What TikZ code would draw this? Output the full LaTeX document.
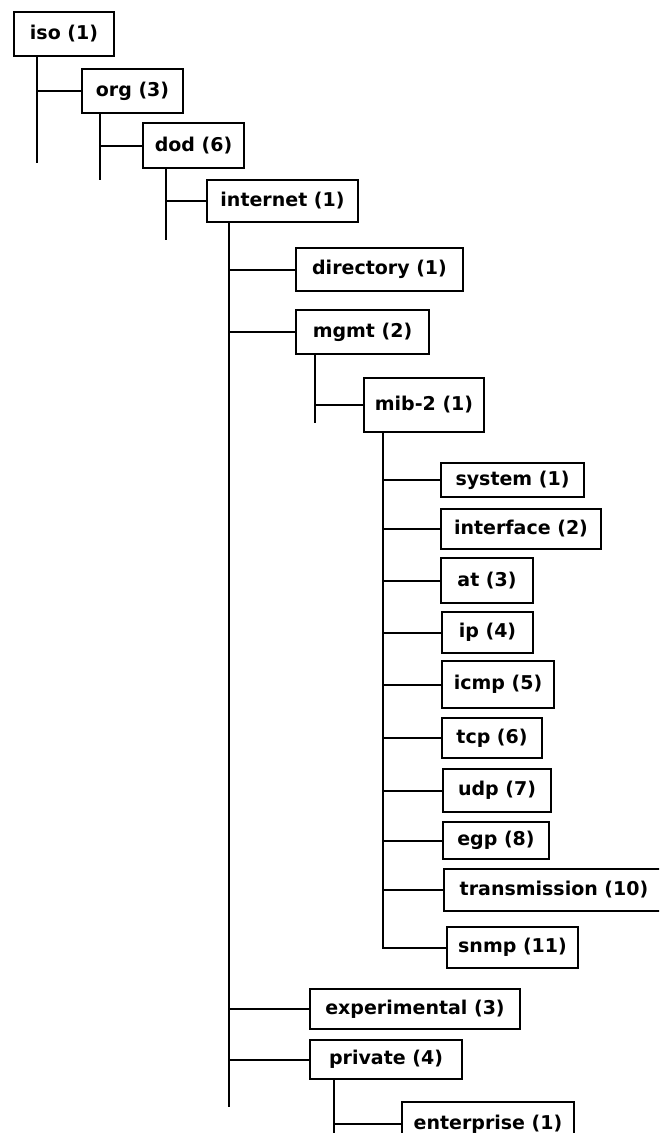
\documentclass[tikz,border=0pt]{standalone}
\usepackage{fontspec}
\setmainfont{DejaVu Sans}
\usetikzlibrary{positioning,calc}
\tikzset{
    oid/.style={
        draw,
        line width=2pt,
        anchor=north west,
        inner xsep=2pt,
        inner ysep=0pt,
        align=center,
        font=\fontsize{19}{21}\selectfont\bfseries
    },
    branch/.style={
        line width=2pt
    }
}

\begin{document}
\begin{tikzpicture}[x=1pt,y=-1pt]
\useasboundingbox (0,0) rectangle (659,1133);
\clip (0,0) rectangle (659,1133);

% upper levels
\node[oid, minimum width=100, minimum height=44] (iso) at (13,11) {iso (1)};
\node[oid, minimum width=101, minimum height=44] (org) at (81,68) {org (3)};
\node[oid, minimum width=101, minimum height=45] (dod) at (142,122) {dod (6)};
\node[oid, minimum width=151, minimum height=42] (internet) at (206,179) {internet (1)};

% children of internet
\node[oid, minimum width=167, minimum height=43] (directory) at (295,247) {directory (1)};
\node[oid, minimum width=133, minimum height=44] (mgmt) at (295,309) {mgmt (2)};
\node[oid, minimum width=120, minimum height=54] (mibtwo) at (363,377) {mib-2 (1)};
\node[oid, minimum width=210, minimum height=40] (experimental) at (309,988) {experimental (3)};
\node[oid, minimum width=152, minimum height=39] (private) at (309,1039) {private (4)};
\node[oid, minimum width=172, minimum height=44] (enterprise) at (401,1101) {enterprise (1)};

% mib-2 groups
\node[oid, minimum width=143, minimum height=34] (system) at (440,462) {system (1)};
\node[oid, minimum width=160, minimum height=40] (interface) at (440,508) {interface (2)};
\node[oid, minimum width=92, minimum height=45] (at) at (440,557) {at (3)};
\node[oid, minimum width=91, minimum height=41] (ip) at (441,611) {ip (4)};
\node[oid, minimum width=112, minimum height=47] (icmp) at (441,660) {icmp (5)};
\node[oid, minimum width=100, minimum height=40] (tcp) at (441,717) {tcp (6)};
\node[oid, minimum width=108, minimum height=43] (udp) at (442,768) {udp (7)};
\node[oid, minimum width=106, minimum height=37] (egp) at (442,821) {egp (8)};
\node[oid, minimum width=220, minimum height=42] (transmission) at (443,868) {transmission (10)};
\node[oid, minimum width=131, minimum height=41] (snmp) at (446,926) {snmp (11)};

% trunk ends
\coordinate (isoend) at (37,163);
\coordinate (orgend) at (100,180);
\coordinate (dodend) at (166,240);
\coordinate (internetend) at (229,1107);
\coordinate (mgmtend) at (315,423);
\coordinate (mibx) at (383,0);
\coordinate (privateend) at (334,1140);

\draw[branch] (iso.south -| isoend) -- (isoend);
\draw[branch] (org.west -| isoend) -- (org.west);
\draw[branch] (org.south -| orgend) -- (orgend);
\draw[branch] (dod.west -| orgend) -- (dod.west);
\draw[branch] (dod.south -| dodend) -- (dodend);
\draw[branch] (internet.west -| dodend) -- (internet.west);

\draw[branch] (internet.south -| internetend) -- (internetend);
\draw[branch] (directory.west -| internetend) -- (directory.west);
\draw[branch] (mgmt.west -| internetend) -- (mgmt.west);
\draw[branch] (experimental.west -| internetend) -- (experimental.west);
\draw[branch] (private.west -| internetend) -- (private.west);

\draw[branch] (mgmt.south -| mgmtend) -- (mgmtend);
\draw[branch] (mibtwo.west -| mgmtend) -- (mibtwo.west);

\draw[branch] (mibtwo.south -| mibx) |- (snmp.west);
\draw[branch] (system.west -| mibx) -- (system.west);
\draw[branch] (interface.west -| mibx) -- (interface.west);
\draw[branch] (at.west -| mibx) -- (at.west);
\draw[branch] (ip.west -| mibx) -- (ip.west);
\draw[branch] (icmp.west -| mibx) -- (icmp.west);
\draw[branch] (tcp.west -| mibx) -- (tcp.west);
\draw[branch] (udp.west -| mibx) -- (udp.west);
\draw[branch] (egp.west -| mibx) -- (egp.west);
\draw[branch] (transmission.west -| mibx) -- (transmission.west);

\draw[branch] (private.south -| privateend) -- (privateend);
\draw[branch] (enterprise.west -| privateend) -- (enterprise.west);

\end{tikzpicture}
\end{document}
